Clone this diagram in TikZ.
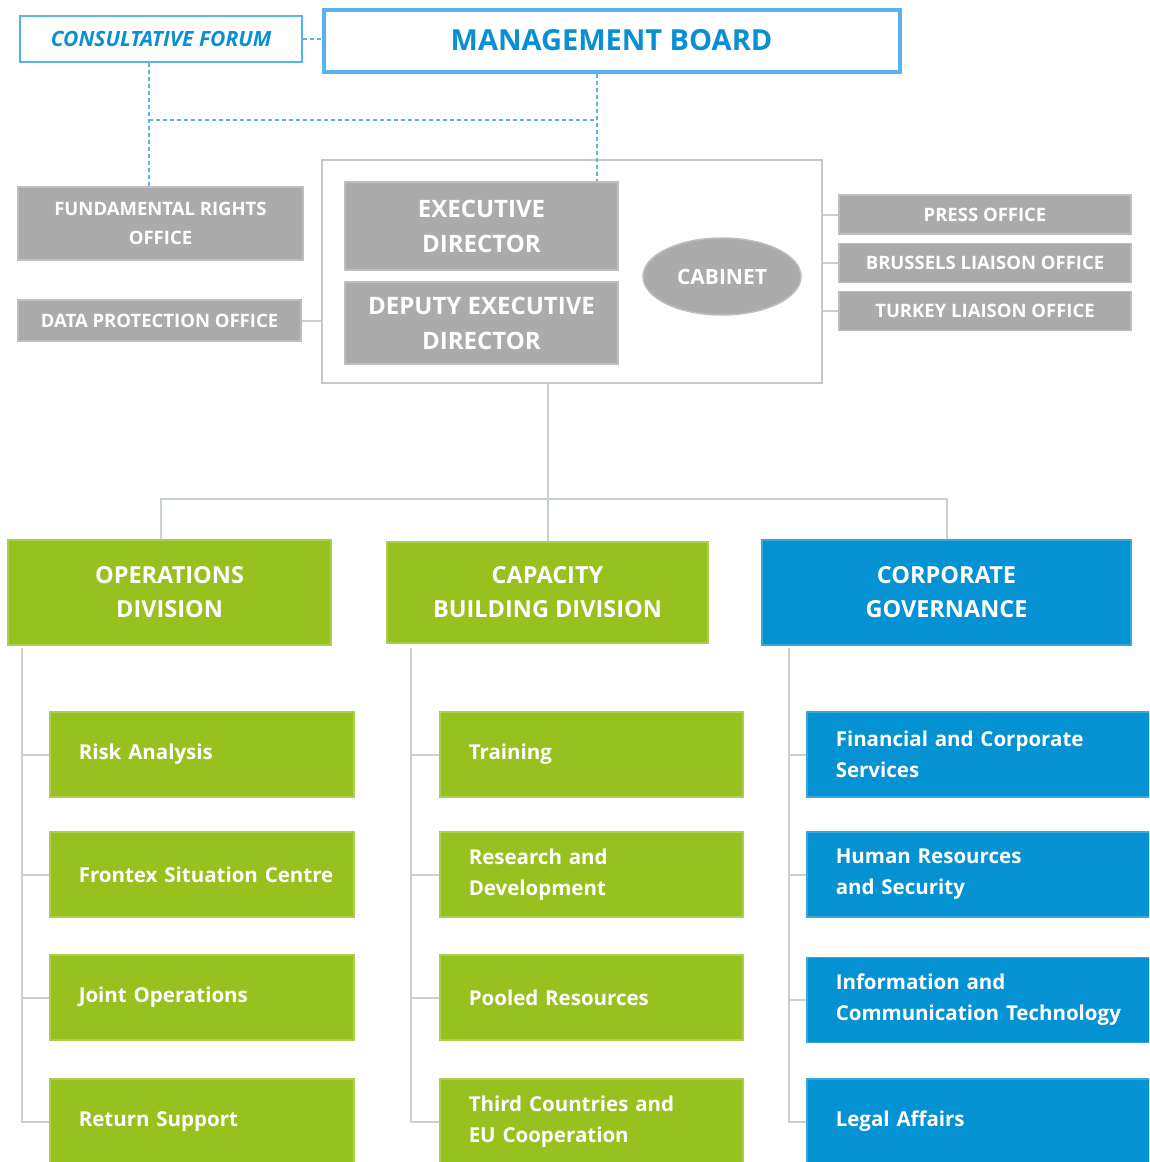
\documentclass[tikz,border=0pt]{standalone}
\usepackage{fontspec}
\setmainfont{Open Sans}
\usetikzlibrary{shapes.geometric}

\definecolor{greenfill}{HTML}{97C11F}
\definecolor{greenedge}{HTML}{ABCF4B}
\definecolor{bluefill}{HTML}{0592D3}
\definecolor{blueedge}{HTML}{35A8DE}
\definecolor{greyfill}{HTML}{ABABAB}
\definecolor{greyedge}{HTML}{BEBEBE}
\definecolor{treeline}{HTML}{C8D0D2}
\definecolor{frameline}{HTML}{C6C8C9}
\definecolor{forumedge}{HTML}{5AB2EC}
\definecolor{forumtext}{HTML}{0A8FD2}

\begin{document}
\begin{tikzpicture}[x=1pt,y=-1pt,
	greystyle/.style={draw=greyedge,fill=greyfill,line width=1.5pt,text=white,align=center,inner sep=0pt,font=\bfseries},
	greenstyle/.style={draw=greenedge,fill=greenfill,line width=1.5pt,text=white,align=center,inner sep=0pt,font=\bfseries\fontsize{23.5}{34}\selectfont},
	bluestyle/.style={draw=blueedge,fill=bluefill,line width=1.5pt,text=white,align=center,inner sep=0pt,font=\bfseries\fontsize{23.5}{34}\selectfont},
	substyle/.style={anchor=west,minimum height=85pt,inner xsep=29pt,inner ysep=0pt,align=left,font=\bfseries\fontsize{20.5}{31}\selectfont},
	tree/.style={draw=treeline,line width=2pt},
	forum/.style={draw=forumedge,line width=1.2pt,dash pattern=on 4pt off 3pt}]
	
	\clip (0,0) rectangle (1149,1162);
	\fill[white] (0,0) rectangle (1149,1162);
	
	% board and forum
	\node [draw=forumedge,line width=1.5pt,minimum width=282,minimum height=46,inner sep=0pt,text=forumtext,font=\bfseries\itshape\fontsize{21}{24}\selectfont] (forum) at (161,39) {CONSULTATIVE FORUM};
	\node [draw=forumedge,line width=4pt,minimum width=576,minimum height=62,inner sep=0pt,text=forumtext,font=\bfseries\fontsize{29}{34}\selectfont] (board) at (611.5,40.5) {MANAGEMENT BOARD};
	
	% directorate
	\node [draw=frameline,line width=2pt,minimum width=500,minimum height=223] (front) at (572,271.5) {};
	\node [greystyle,minimum width=273,minimum height=88,font=\bfseries\fontsize{24}{35}\selectfont] (exec) at (481.5,226) {EXECUTIVE\\DIRECTOR};
	\node [greystyle,minimum width=273,minimum height=82,font=\bfseries\fontsize{24}{35}\selectfont] (deputy) at (481.5,323) {DEPUTY EXECUTIVE\\DIRECTOR};
	\node [greystyle,ellipse,minimum width=158,minimum height=77,font=\bfseries\fontsize{21}{24}\selectfont] (cabinet) at (722,276.5) {CABINET};
	
	% offices
	\node [greystyle,minimum width=285,minimum height=73,font=\bfseries\fontsize{18.5}{29}\selectfont] (rights) at (160.5,223.5) {FUNDAMENTAL RIGHTS\\OFFICE};
	\node [greystyle,minimum width=283,minimum height=41,font=\bfseries\fontsize{18.5}{22}\selectfont] (dpo) at (159.5,320.5) {DATA PROTECTION OFFICE};
	\foreach \name/\y/\txt in {press/214.5/PRESS OFFICE, brussels/263/BRUSSELS LIAISON OFFICE, turkey/311/TURKEY LIAISON OFFICE}
	{\node [greystyle,minimum width=292,minimum height=39,font=\bfseries\fontsize{18.5}{22}\selectfont] (\name) at (985,\y) {\txt};
		\draw [tree] (\name.west -| front.east) -- (\name.west);}
	\draw [tree] (dpo.east) -- (dpo.east -| front.west);
	
	% dashed links
	\coordinate (fj) at (149,120);
	\coordinate (bj) at (597,120);
	\draw [forum] (forum.east) -- (forum.east -| board.west);
	\draw [forum] (forum.south -| fj) -- (rights.north -| fj);
	\draw [forum] (board.south -| bj) -- (exec.north -| bj);
	\draw [forum] (fj) -- (bj);
	
	% divisions
	\node [greenstyle,minimum width=323,minimum height=105] (ops) at (169.5,592.5) {OPERATIONS\\DIVISION};
	\node [greenstyle,minimum width=321,minimum height=101] (cap) at (547.5,592.5) {CAPACITY\\BUILDING DIVISION};
	\node [bluestyle,minimum width=369,minimum height=105] (corp) at (946.5,592.5) {CORPORATE\\GOVERNANCE};
	
	\coordinate (opsup) at (161,499);
	\draw [tree] (front.south -| cap.north) -- (cap.north);
	\draw [tree] (opsup |- ops.north) -- (opsup) -| (corp.north);
	
	% units
	\foreach \txt/\y [count=\i] in {Risk Analysis/754.5, \mbox{Frontex Situation Centre}/874.5, Joint Operations/997.5, Return Support/1121.5}
	\node [greenstyle,substyle,minimum width=304,text width=246] (ops\i) at (49,\y) {\txt};
	\foreach \txt/\y [count=\i] in {Training/754.5, Research and\\Development/874.5, Pooled Resources/997.5, Third Countries and\\EU Cooperation/1121.5}
	\node [greenstyle,substyle,minimum width=303,text width=245] (cap\i) at (439,\y) {\txt};
	\foreach \txt/\y [count=\i] in {Financial and Corporate\\Services/754.5, Human Resources\\and Security/874.5, Information and\\\mbox{Communication Technology}/1000, Legal Affairs/1121.5}
	\node [bluestyle,substyle,minimum width=343,text width=285] (corp\i) at (806,\y) {\txt};
	
	\coordinate (opsl) at (22,648);
	\coordinate (capl) at (411,648);
	\coordinate (corpl) at (789,648);
	\foreach \col in {ops,cap,corp}
	{\draw [tree] (\col l) |- (\col 4.west);
		\foreach \i in {1,2,3}
		\draw [tree] (\col l |- \col\i.west) -- (\col\i.west);}
	
\end{tikzpicture}
\end{document}
